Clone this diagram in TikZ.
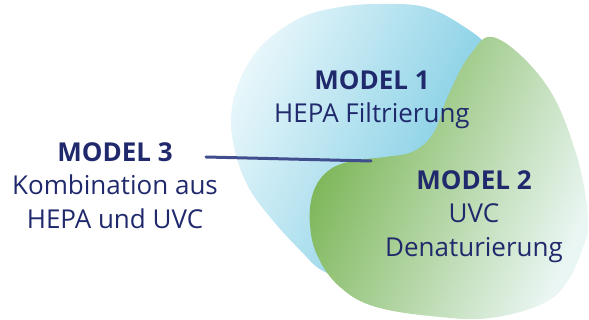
\documentclass[tikz,border=0pt]{standalone}
\usepackage{fontspec}
\setmainfont{Open Sans}
\usetikzlibrary{positioning}

\definecolor{navy}{HTML}{20296C}
\definecolor{linecol}{HTML}{414E8E}
\definecolor{blueL}{HTML}{E6F6FA}
\definecolor{blueD}{HTML}{6CC5E0}
\definecolor{greenD}{HTML}{76B24E}
\definecolor{greenL}{HTML}{EAF6F3}

\begin{document}
\begin{tikzpicture}[x=1pt,y=-1pt,
  label/.style={align=center,text=navy,inner sep=0pt,anchor=north,
    font=\fontsize{26}{33.5}\selectfont},
  connector/.style={draw=linecol,line width=3pt,line cap=round}]
\useasboundingbox (0,0) rectangle (589,320);
% blobs
\shade[top color=blueL,bottom color=blueD,shading angle=65]
  plot[smooth cycle,tension=0.6] coordinates {(380,4) (425,7) (463,26) (490,50)
  (505,95) (495,160) (440,235) (370,282) (325,272) (300,250) (275,223)
  (250,190) (236,155) (231,117) (240,80) (262,45) (300,18) (340,7)};
\shade[top color=greenD,bottom color=greenL,shading angle=66]
  plot[smooth cycle,tension=0.65] coordinates {(496,38) (545,83) (575,150)
  (588,217) (582,250) (565,285) (540,305) (490,318) (440,317) (376,307)
  (340,287) (318,257) (310,225) (313,193) (328,171) (352,161) (385,157)
  (414,151) (434,132) (448,96) (470,55)};
% labels
\node[label] (m1) at (372,70) {\textbf{MODEL 1}\\HEPA Filtrierung};
\node[label] (m2) at (474,170) {\textbf{MODEL 2}\\UVC\\Denaturierung};
\node[label] (m3) at (115,142) {\textbf{MODEL 3}\\Kombination aus\\HEPA und UVC};
\coordinate (start) at (206,157);
\coordinate (mix) at (371,161);
\draw[connector] (start) -- (mix);
\end{tikzpicture}
\end{document}
